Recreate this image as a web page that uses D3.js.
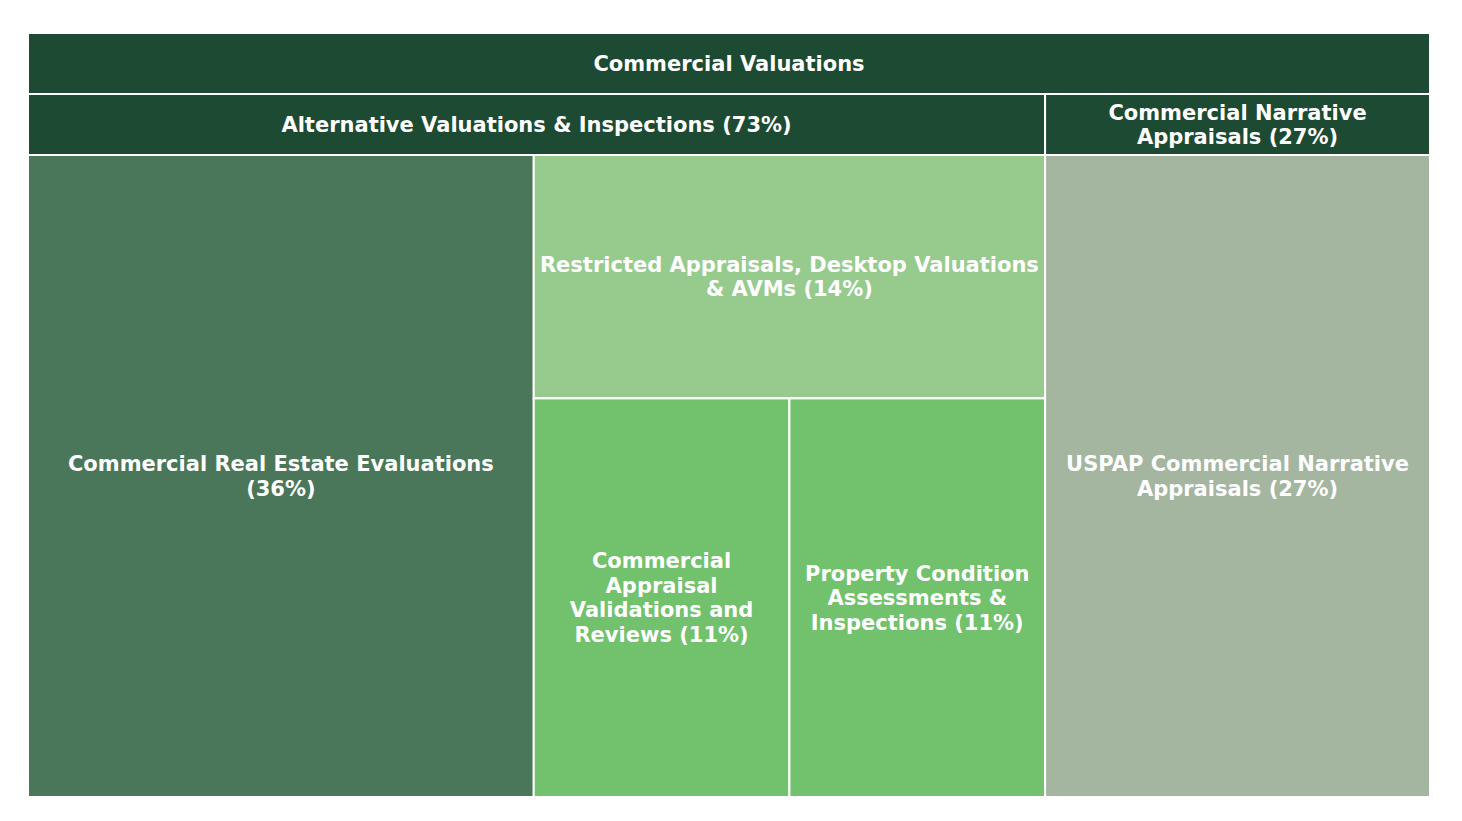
<!DOCTYPE html>
<html>
<head>
<meta charset="utf-8">
<script src="https://cdn.jsdelivr.net/npm/d3@7"></script>
<style>
body{margin:0;background:#fff;}
.label{font-family:"DejaVu Sans",Verdana,sans-serif;font-weight:bold;fill:#fff;}
</style>
</head>
<body>
<svg id="chart" width="1462" height="821"></svg>
<script>
var rootName="Commercial Valuations";
var groupNames=["Alternative Valuations & Inspections","Commercial Narrative Appraisals"];
var leafNames=[
  "Commercial Real Estate Evaluations",
  "Restricted Appraisals, Desktop Valuations & AVMs",
  "Commercial Appraisal Validations and Reviews",
  "Property Condition Assessments & Inspections",
  "USPAP Commercial Narrative Appraisals"
];
var leafGroup=[0,0,0,0,1];
var leafValues=[36,13.8,11.3,11.3,27.4];

var headerColour="#1d4a33";
var leafColours=["#4a7659","#97cb8e","#72c16d","#72c16d","#a4b5a0"];

var margin={top:33,left:28,right:32,bottom:24},
    width=1462-margin.left-margin.right,
    height=821-margin.top-margin.bottom;
var fontSize=21, lineH=24.5, headerH=61, pad=5;

var tree={name:rootName,children:groupNames.map(function(g,gi){
  return {name:g,children:leafNames.map(function(n,i){return {name:n,value:leafValues[i],idx:i,group:leafGroup[i]};})
    .filter(function(d){return d.group==gi;})};
})};

var root=d3.hierarchy(tree).sum(function(d){return d.value||0;}).sort(function(a,b){return b.value-a.value;});
d3.treemap().tile(d3.treemapBinary).size([width,height]).paddingTop(headerH).paddingInner(0).round(false)(root);

var svg=d3.select("#chart");
var g=svg.append("g").attr("transform","translate("+margin.left+","+margin.top+")");

var nodes=g.selectAll("g.node").data(root.descendants()).enter().append("g").attr("class","node");

nodes.append("rect")
  .attr("x",function(d){return d.x0;})
  .attr("y",function(d){return d.y0;})
  .attr("width",function(d){return d.x1-d.x0;})
  .attr("height",function(d){return d.y1-d.y0;})
  .attr("fill",function(d){return d.children?headerColour:leafColours[d.data.idx];})
  .attr("stroke","#fff").attr("stroke-width",2);

function labelText(d){
  if(d.depth==0) return d.data.name;
  return d.data.name+" ("+Math.round(d.value/root.value*100)+"%)";
}

nodes.each(function(d){
  var el=d3.select(this);
  var w=d.x1-d.x0-2*pad;
  var cx=(d.x0+d.x1)/2;
  var cy=d.children?d.y0+headerH/2:(d.y0+d.y1)/2;
  var t=el.append("text").attr("class","label").attr("text-anchor","middle").style("font-size",fontSize+"px");
  var words=labelText(d).split(" "),lines=[],cur="";
  var probe=t.append("tspan");
  words.forEach(function(wd){
    var test=cur?cur+" "+wd:wd;
    probe.text(test);
    if(probe.node().getComputedTextLength()>w&&cur){lines.push(cur);cur=wd;}
    else cur=test;
  });
  lines.push(cur);
  probe.remove();
  var startY=cy-(lines.length-1)*lineH/2;
  lines.forEach(function(l,i){
    t.append("tspan").attr("x",cx).attr("y",startY+i*lineH).attr("dy","0.35em").text(l);
  });
});
</script>
</body>
</html>
